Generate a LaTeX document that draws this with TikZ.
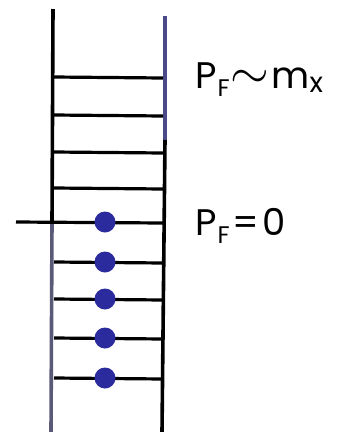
\documentclass[tikz,border=0pt]{standalone}
\usepackage{fontspec}
\setmainfont{Poppins}
\newcommand{\subF}{\raisebox{-8pt}{\fontsize{24}{24}\selectfont F}}
\begin{document}
\begin{tikzpicture}[x=1pt,y=-1pt,
  wall/.style={line width=3.6pt},
  rung/.style={line width=3.2pt},
  fermion/.style={circle,fill=dotblue,minimum size=21pt,inner sep=0pt},
  lbl/.style={anchor=west,font=\fontsize{37}{40}\selectfont,inner sep=0pt}]
\definecolor{dotblue}{HTML}{2B2B9E}
\definecolor{wallgray}{HTML}{5A5A78}
\definecolor{wallblue}{HTML}{4A4A8A}
\useasboundingbox (0,0) rectangle (354,432);
\fill[white] (0,0) rectangle (354,432);
% walls
\draw[wall] (53,9) -- (52,222);
\draw[wall,wallgray] (52,222) -- (51,432);
\draw[wall,wallblue] (165,16) -- (165,140);
\draw[wall] (165,140) -- (162,432);
% rungs
\foreach \y in {77,115,152,188,262,299,338,378}
  \draw[rung] (54,\y) -- (163,\y+1);
\draw[rung] (16,222) -- (163,223);
% filled levels
\foreach \y/\n in {222/a,262/b,299/c,338/d,378/e}
  \node[fermion] (f\n) at (105,\y) {};
% labels
\node[lbl] (top) at (195,80) {P\kern1pt\subF\kern1pt\scalebox{2}{$\sim$}\kern2pt m\raisebox{-4pt}{\fontsize{28}{28}\selectfont x}};
\node[lbl] (bot) at (195,226) {P\kern1pt\subF\kern3pt=\kern3pt0};
\end{tikzpicture}
\end{document}
